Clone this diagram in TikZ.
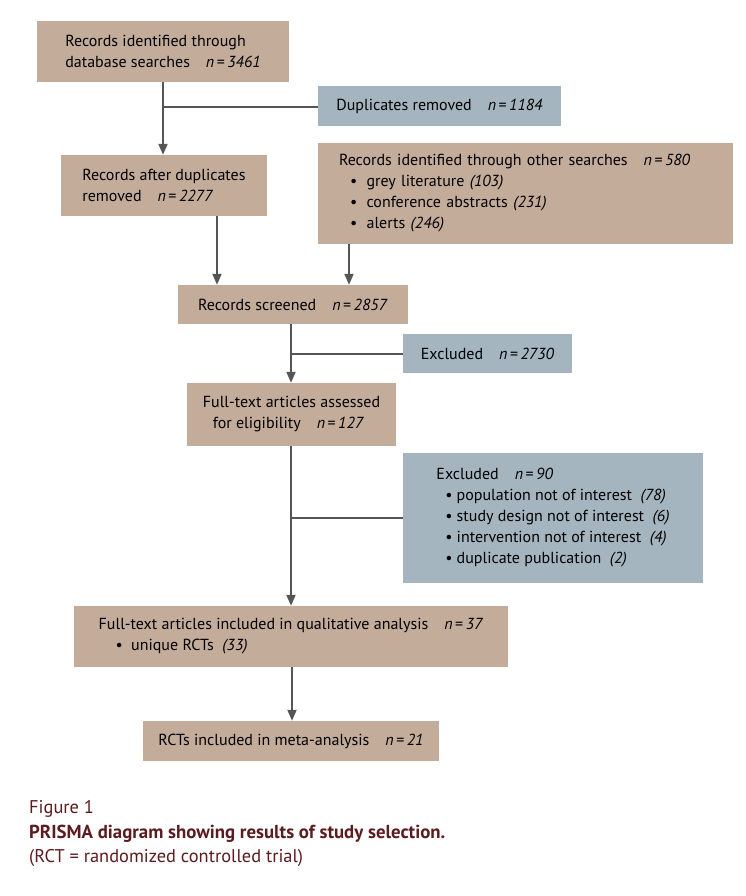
\documentclass[tikz,border=0pt]{standalone}
\usepackage{fontspec}
\setmainfont{PT Sans}
\usetikzlibrary{arrows.meta,calc}
\definecolor{tanbox}{HTML}{C4AC9B}
\definecolor{bluebox}{HTML}{A4B5BF}
\definecolor{linegrey}{HTML}{555555}
\definecolor{capred}{HTML}{5C1B1F}
\newcommand{\nn}[1]{\quad\textit{n}\hspace{2.5pt}=\hspace{2.5pt}\textit{#1}}
\newcommand{\bul}[1][9pt]{\hspace*{#1}\textbullet\hspace{4pt}}
\tikzset{
  box/.style={rectangle, inner sep=0pt, align=left, text=black,
    font=\fontsize{16}{21}\selectfont},
  tanb/.style={box, fill=tanbox},
  blueb/.style={box, fill=bluebox},
  conn/.style={draw=linegrey, line width=2pt},
  arr/.style={conn, -{Triangle[length=11pt,width=9pt]}, shorten >=0pt},
  captext/.style={anchor=west, inner sep=0pt, text=capred, font=\fontsize{18.4}{22}\selectfont}
}
\begin{document}
\begin{tikzpicture}[x=1pt,y=-1pt]
\useasboundingbox (0,0) rectangle (745,896);
\node[tanb, minimum width=252, minimum height=61] (A) at (163,51.5)
  {Records identified through\\database searches\nn{3461}};
\node[blueb, minimum width=243, minimum height=40] (dup) at (439.5,106)
  {Duplicates removed\nn{1184}};
\node[tanb, minimum width=206, minimum height=61] (B) at (164,185.5)
  {Records after duplicates\\removed\nn{2277}};
\node[tanb, minimum width=415, minimum height=101, text width=373, inner xsep=21] (oth) at (525.5,193.5)
  {Records identified through other searches\nn{580}\\
   \bul[11pt] grey literature \textit{(103)}\\
   \bul[11pt] conference abstracts \textit{(231)}\\
   \bul[11pt] alerts \textit{(246)}};
\node[tanb, minimum width=230, minimum height=39] (scr) at (293,304.5)
  {Records screened\nn{2857}};
\node[blueb, minimum width=169, minimum height=39] (ex1) at (487.5,353.5)
  {Excluded\nn{2730}};
\node[tanb, minimum width=209, minimum height=63] (fta) at (291.5,414.5)
  {Full-text articles assessed\\\hspace*{10pt}for eligibility\nn{127}};
\node[blueb, minimum width=300, minimum height=130] (ex2) at (553,518)
  {Excluded\nn{90}\\
   \bul population not of interest\ \ \textit{(78)}\\
   \bul study design not of interest\ \ \textit{(6)}\\
   \bul intervention not of interest\ \ \textit{(4)}\\
   \bul duplicate publication\ \ \textit{(2)}};
\node[tanb, minimum width=434, minimum height=61] (qual) at (291,636.5)
  {Full-text articles included in qualitative analysis\nn{37}\\
   \bul[17pt] unique RCTs\ \ \textit{(33)}};
\node[tanb, minimum width=296, minimum height=40] (meta) at (291,741)
  {RCTs included in meta-analysis\nn{21}};
% connectors
\coordinate (j1) at (163,107);
\draw[arr] (A.south -| j1) -- (B.north -| j1);
\draw[conn] (j1) -- (dup.west |- j1);
\coordinate (b1) at (217,216);
\draw[arr] (b1) -- (scr.north -| b1);
\coordinate (o1) at (349,244);
\draw[arr] (o1) -- (scr.north -| o1);
\coordinate (j2) at (291,353.5);
\draw[arr] (scr.south -| j2) -- (fta.north -| j2);
\draw[conn] (j2) -- (ex1.west);
\coordinate (j3) at (291,518);
\draw[arr] (fta.south -| j3) -- (qual.north -| j3);
\draw[conn] (j3) -- (ex2.west);
\coordinate (j4) at (292,666);
\draw[arr] (qual.south -| j4) -- (meta.north -| j4);
% caption
\node[captext] (c1) at (29,809) {Figure 1};
\node[captext, font=\fontsize{18.8}{22}\selectfont\bfseries] (c2) at (29,833.5) {PRISMA diagram showing results of study selection.};
\node[captext] (c3) at (29,858) {(RCT = randomized controlled trial)};
\end{tikzpicture}
\end{document}
